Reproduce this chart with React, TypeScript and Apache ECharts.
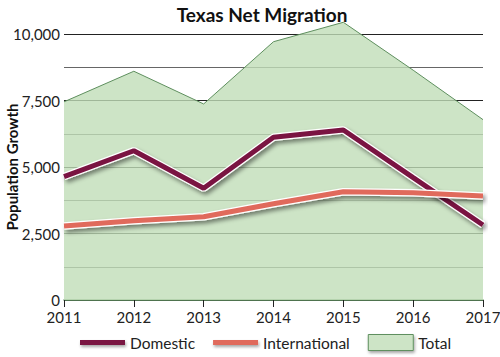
import React, { useEffect, useRef } from "react";
import * as echarts from "echarts";

const years = ["2011", "2012", "2013", "2014", "2015", "2016", "2017"];
const domestic = [4640, 5610, 4200, 6120, 6390, 4600, 2820];
const international = [2780, 2980, 3130, 3620, 4070, 4030, 3910];
const total = [7450, 8600, 7370, 9710, 10440, 8640, 6780];
const yTickLabels = [0, 2500, 5000, 7500, 10000];

const FONT = "Lato";
const LINE_ICON = "path://M0,0L45,0L45,5L0,5Z";

export default function App() {
  const ref = useRef<HTMLDivElement>(null);
  useEffect(() => {
    if (!ref.current) return;
    const chart = echarts.init(ref.current, null, { renderer: "svg" });
    const shadow = {
      shadowColor: "rgba(0,0,0,0.45)",
      shadowBlur: 4,
      shadowOffsetX: 2,
      shadowOffsetY: 3,
    };
    const iconShadow = {
      shadowColor: "rgba(0,0,0,0.35)",
      shadowBlur: 3,
      shadowOffsetX: 1,
      shadowOffsetY: 2,
    };
    chart.setOption({
      animation: false,
      backgroundColor: "#ffffff",
      title: {
        text: "Texas Net Migration",
        left: 257,
        textAlign: "center",
        top: 0,
        textStyle: { fontFamily: FONT, fontWeight: "bold", fontSize: 19, color: "#111" },
      },
      grid: { left: 64, right: 17, top: 34, bottom: 57, outerBoundsMode: "none", containLabel: false },
      legend: {
        bottom: 1,
        left: 75,
        padding: 5,
        itemGap: 18,
        itemWidth: 45,
        itemHeight: 16,
        textStyle: { fontFamily: FONT, fontSize: 15.5, color: "#222" },
        data: [
          { name: "Domestic", icon: LINE_ICON, itemStyle: { color: "#7a1442", ...iconShadow } },
          { name: "International", icon: LINE_ICON, itemStyle: { color: "#e06a5c", ...iconShadow } },
          {
            name: "Total",
            icon: "rect",
            itemStyle: { color: "#cde4c6", borderColor: "#5e8f5e", borderWidth: 1, ...iconShadow },
          },
        ],
      },
      xAxis: {
        type: "category",
        data: years,
        boundaryGap: false,
        axisLine: { show: true, lineStyle: { color: "#5e8f5e", width: 1.5 } },
        axisTick: { show: true, length: 7, lineStyle: { color: "#222" } },
        axisLabel: { fontFamily: FONT, fontSize: 15, color: "#222", margin: 9, hideOverlap: false, overflow: "none" },
      },
      yAxis: {
        type: "value",
        min: 0,
        max: 10000,
        interval: 1250,
        name: "Population Growth",
        nameLocation: "middle",
        nameGap: 45,
        nameMoveOverlap: false,
        nameTextStyle: { fontFamily: FONT, fontWeight: "bold", fontSize: 15, color: "#111" },
        axisLine: { show: false },
        axisTick: { show: false },
        axisLabel: {
          fontFamily: FONT,
          fontSize: 15,
          color: "#222",
          margin: 4,
          formatter: (v: number) =>
            yTickLabels.includes(v) ? v.toLocaleString("en-US") : "",
        },
        splitLine: { show: true, lineStyle: { color: ["#222", "#666"], width: 1.2 } },
      },
      series: [
        {
          name: "Total",
          type: "line",
          data: total,
          clip: false,
          symbol: "none",
          color: "#cde4c6",
          lineStyle: { color: "#5e8f5e", width: 1 },
          areaStyle: { color: "rgb(192,221,184)", opacity: 0.8 },
          z: 1,
        },
        {
          name: "domWhite",
          type: "line",
          data: domestic,
          symbol: "none",
          lineStyle: { color: "#ffffff", width: 7.5, ...shadow },
          z: 2,
          silent: true,
        },
        {
          name: "Domestic",
          type: "line",
          data: domestic,
          symbol: "none",
          color: "#7a1442",
          lineStyle: { color: "#7a1442", width: 5 },
          z: 3,
        },
        {
          name: "intWhite",
          type: "line",
          data: international,
          symbol: "none",
          lineStyle: { color: "#ffffff", width: 7.5, ...shadow },
          z: 4,
          silent: true,
        },
        {
          name: "International",
          type: "line",
          data: international,
          symbol: "none",
          color: "#e06a5c",
          lineStyle: { color: "#e06a5c", width: 5 },
          z: 5,
        },
      ],
    });
    return () => chart.dispose();
  }, []);
  return (
    <div
      ref={ref}
      style={{ position: "absolute", left: 0, top: 0, width: 500, height: 357 }}
    />
  );
}
